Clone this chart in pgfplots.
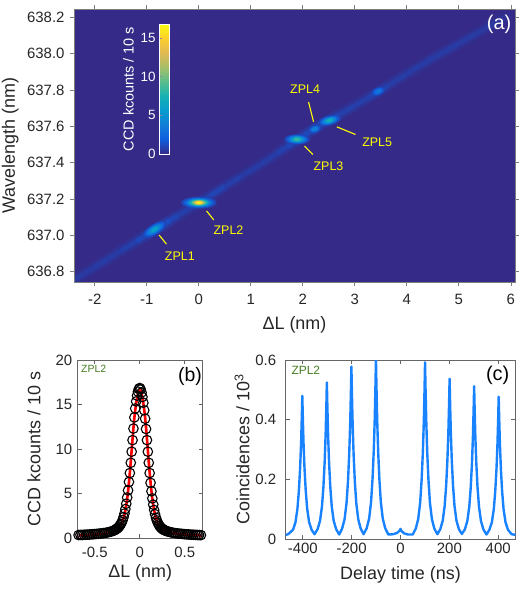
\documentclass[border=0pt]{standalone}
\usepackage{pgfplots}
\pgfplotsset{compat=1.18}
\usepackage{pgfplotstable}
\usepackage{fontspec}
\setmainfont{Liberation Sans}

\definecolor{pbg}{RGB}{53,42,135}
\definecolor{zplyellow}{RGB}{255,255,0}
\definecolor{zplgreen}{RGB}{70,125,35}
\definecolor{gtwoblue}{RGB}{25,130,255}
\definecolor{axgray}{RGB}{125,125,125}
\definecolor{txt}{RGB}{38,38,38}

\newcommand\tickfont{\fontsize{15}{17}\selectfont}
\newcommand\labfont{\fontsize{18}{20}\selectfont}

\pgfplotsset{
  colormap={parula}{
    rgb255=(53,42,135) rgb255=(15,92,221) rgb255=(18,125,216) rgb255=(7,156,207)
    rgb255=(21,177,180) rgb255=(89,189,140) rgb255=(165,190,107) rgb255=(225,185,82)
    rgb255=(252,206,46) rgb255=(249,251,14)},
  /pgf/number format/assume math mode=true,
  every axis/.append style={
    tick label style={font=\tickfont, text=txt},
    label style={font=\labfont, text=txt},
  },
}

% filled ellipse whose radii and orientation come from the table
\pgfdeclareplotmark{blob}{%
  \pgfpathellipse{\pgfpointorigin}%
    {\pgfpointpolar{\blobrot}{\blobrx bp}}%
    {\pgfpointpolar{\blobrotb}{\blobry bp}}%
  \pgfusepathqfill}

% emission line along the tuning streak
\pgfplotstableread{
x y g c
-2.6 636.720 0.22 0.55
-2.0 636.826 0.24 0.6
-1.5 636.915 0.27 0.68
-1.2 636.968 0.33 0.85
-1.0 637.003 0.5 1.3
-0.85 637.030 0.65 1.7
-0.7 637.056 0.6 1.55
-0.55 637.083 0.42 1.1
-0.4 637.109 0.3 0.8
-0.2 637.145 0.27 0.72
0.0 637.180 0.33 0.85
0.2 637.215 0.3 0.8
0.35 637.242 0.4 1.05
0.5 637.269 0.3 0.8
0.8 637.322 0.24 0.62
1.2 637.392 0.24 0.62
1.5 637.450 0.27 0.7
1.7 637.489 0.36 0.95
1.9 637.526 0.48 1.25
2.05 637.555 0.4 1.05
2.2 637.583 0.48 1.25
2.35 637.610 0.4 1.05
2.5 637.633 0.48 1.25
2.7 637.664 0.33 0.85
3.0 637.714 0.27 0.7
3.25 637.755 0.27 0.7
3.45 637.791 0.36 0.95
3.65 637.826 0.27 0.7
4.0 637.888 0.24 0.62
4.5 637.975 0.26 0.66
5.0 638.055 0.24 0.62
5.4 638.120 0.22 0.58
5.7 638.170 0.18 0.48
5.9 638.200 0.1 0.25
6.0 638.215 0.03 0.06
}\streak

% bright zero-phonon lines: layered ellipses, outer to inner
\pgfplotstableread{
x y c rx ry rot rotb
-0.85 637.033 1.0 14 5.4 32 122
-0.85 637.033 2.0 11.5 4.5 32 122
-0.85 637.033 3.3 9 3.6 32 122
-0.85 637.033 4.7 6.5 2.7 32 122
-0.85 637.033 6.0 3.8 1.8 32 122
0 637.18 1.0 18 6.0 0 90
0 637.18 2.3 15 5.0 0 90
0 637.18 4.2 12 4.1 0 90
0 637.18 6.8 9.5 3.3 0 90
0 637.18 9.6 7.2 2.7 0 90
0 637.18 12.5 5.2 2.1 0 90
0 637.18 15.0 3.6 1.6 0 90
0 637.18 16.8 2 1 0 90
1.89 637.528 1.0 13 5.2 0 90
1.89 637.528 2.3 10.5 4.3 0 90
1.89 637.528 4.2 8 3.4 0 90
1.89 637.528 6.3 5.6 2.6 0 90
1.89 637.528 8.2 3.2 1.7 0 90
2.23 637.585 1.0 7 4.4 20 110
2.23 637.585 2.3 5.2 3.2 20 110
2.23 637.585 3.8 3.3 2.0 20 110
2.51 637.632 1.0 12 5.0 15 105
2.51 637.632 2.4 9.5 4.0 15 105
2.51 637.632 4.1 7.2 3.1 15 105
2.51 637.632 5.8 4.8 2.3 15 105
2.51 637.632 7.2 2.8 1.5 15 105
3.45 637.792 0.9 8 4.3 25 115
3.45 637.792 2.0 5.8 3.2 25 115
3.45 637.792 3.2 3.4 2 25 115
}\spots

% ZPL2 spectrum: data (d) and fit (f)
\pgfplotstableread{
x d f
-0.68 0.33 0.28
-0.66 0.35 0.29
-0.64 0.34 0.30
-0.62 0.36 0.31
-0.60 0.37 0.32
-0.58 0.38 0.33
-0.56 0.39 0.34
-0.54 0.41 0.36
-0.52 0.42 0.37
-0.50 0.44 0.39
-0.48 0.46 0.41
-0.46 0.48 0.43
-0.44 0.50 0.45
-0.42 0.52 0.47
-0.40 0.55 0.50
-0.38 0.58 0.53
-0.36 0.62 0.57
-0.34 0.67 0.61
-0.32 0.72 0.66
-0.30 0.79 0.72
-0.29 0.83 0.76
-0.28 0.88 0.80
-0.27 0.94 0.85
-0.26 1.01 0.91
-0.25 1.08 0.98
-0.24 1.17 1.07
-0.23 1.28 1.17
-0.22 1.42 1.30
-0.21 1.58 1.45
-0.20 1.78 1.65
-0.19 2.02 1.90
-0.18 2.35 2.22
-0.17 2.75 2.62
-0.16 3.25 3.10
-0.15 3.85 3.70
-0.14 4.55 4.40
-0.13 5.35 5.25
-0.12 6.30 6.25
-0.11 7.30 7.35
-0.10 8.45 8.55
-0.09 9.70 9.85
-0.08 11.00 11.15
-0.07 12.30 12.40
-0.06 13.55 13.50
-0.05 14.55 14.40
-0.04 15.35 15.15
-0.03 16.00 15.75
-0.02 16.45 16.20
-0.01 16.75 16.50
0.00 16.85 16.60
0.01 16.70 16.50
0.02 16.35 16.20
0.03 15.85 15.75
0.04 15.20 15.15
0.05 14.35 14.40
0.06 13.40 13.50
0.07 12.25 12.40
0.08 11.00 11.15
0.09 9.70 9.85
0.10 8.45 8.55
0.11 7.30 7.35
0.12 6.20 6.25
0.13 5.25 5.25
0.14 4.45 4.40
0.15 3.75 3.70
0.16 3.15 3.10
0.17 2.68 2.62
0.18 2.28 2.22
0.19 1.97 1.90
0.20 1.72 1.65
0.21 1.52 1.45
0.22 1.36 1.30
0.23 1.23 1.17
0.24 1.12 1.07
0.25 1.03 0.98
0.26 0.96 0.91
0.27 0.90 0.85
0.28 0.85 0.80
0.29 0.81 0.76
0.30 0.77 0.72
0.32 0.71 0.66
0.34 0.65 0.61
0.36 0.61 0.57
0.38 0.57 0.53
0.40 0.54 0.50
0.42 0.51 0.47
0.44 0.49 0.45
0.46 0.47 0.43
0.48 0.45 0.41
0.50 0.43 0.39
0.52 0.41 0.37
0.54 0.40 0.36
0.56 0.38 0.34
0.58 0.37 0.33
0.60 0.36 0.32
0.62 0.35 0.31
0.64 0.34 0.30
0.66 0.33 0.29
0.68 0.32 0.28
}\zpltwo

% second-order correlation histogram of ZPL2
\pgfplotstableread{
t g
-470 0.014
-460 0.016
-440 0.031
-430 0.056
-422 0.101
-416 0.162
-411 0.237
-407 0.321
-404 0.410
-402 0.480
-400 0.410
-397 0.321
-393 0.237
-388 0.162
-382 0.101
-374 0.056
-364 0.031
-352 0.016
-339.5 0.033
-329.5 0.061
-321.5 0.109
-315.5 0.176
-310.5 0.258
-306.5 0.351
-303.5 0.448
-301.5 0.525
-299.5 0.448
-296.5 0.351
-292.5 0.258
-287.5 0.176
-281.5 0.109
-273.5 0.061
-263.5 0.033
-251 0.015
-239 0.035
-229 0.066
-221 0.120
-215 0.193
-210 0.284
-206 0.386
-203 0.493
-201 0.578
-199 0.493
-196 0.386
-192 0.284
-187 0.193
-181 0.120
-173 0.066
-163 0.035
-151 0.016
-138.5 0.036
-128.5 0.068
-120.5 0.124
-114.5 0.201
-109.5 0.295
-105.5 0.401
-102.5 0.514
-100.5 0.602
-98.5 0.514
-95.5 0.401
-91.5 0.295
-86.5 0.201
-80.5 0.124
-72.5 0.068
-62.5 0.036
-50 0.015
-30 0.016
-15 0.020
-6 0.026
-2 0.030
0 0.034
2 0.030
6 0.025
15 0.019
30 0.015
50 0.015
62.5 0.035
72.5 0.067
80.5 0.122
86.5 0.198
91.5 0.290
95.5 0.395
98.5 0.505
100.5 0.592
102.5 0.505
105.5 0.395
109.5 0.290
114.5 0.198
120.5 0.122
128.5 0.067
138.5 0.035
151 0.016
163 0.033
173 0.062
181 0.112
187 0.180
192 0.264
196 0.359
199 0.458
201 0.537
203 0.458
206 0.359
210 0.264
215 0.180
221 0.112
229 0.062
239 0.033
251 0.017
263.5 0.032
273.5 0.060
281.5 0.107
287.5 0.172
292.5 0.252
296.5 0.342
299.5 0.437
301.5 0.512
303.5 0.437
306.5 0.342
310.5 0.252
315.5 0.172
321.5 0.107
329.5 0.060
339.5 0.032
352 0.015
364 0.031
374 0.056
382 0.100
388 0.161
393 0.235
397 0.319
400 0.407
402 0.477
404 0.407
407 0.319
411 0.235
416 0.161
422 0.100
430 0.056
440 0.031
455 0.016
470 0.014
}\gtwo

\begin{document}
\begin{tikzpicture}
\useasboundingbox (0,0) rectangle (526bp,590bp);

% ---------------- (a) PLE map ----------------
\begin{axis}[
  at={(74bp,308bp)}, anchor=south west,
  scale only axis, width=441bp, height=273bp,
  xmin=-2.4, xmax=6.08, ymin=636.744, ymax=638.245,
  xtick={-2,-1,0,1,2,3,4,5,6},
  ytick={636.8,637,637.2,637.4,637.6,637.8,638,638.2},
  scaled y ticks=false,
  yticklabel style={/pgf/number format/.cd, fixed, fixed zerofill, precision=1},
  tick align=outside, major tick length=4bp,
  axis line style={axgray, line width=0.7bp},
  tick style={axgray, line width=0.7bp},
  axis background/.style={fill=pbg},
  axis on top,
  colormap name=parula, point meta min=0, point meta max=16.8,
  xlabel={ΔL (nm)}, ylabel={Wavelength (nm)},
  xlabel style={at={(axis description cs:0.5,-0.1575)}, anchor=center},
  ylabel style={at={(axis description cs:-0.1445,0.5)}, anchor=center},
  xticklabel shift=5bp, yticklabel shift=2bp,
  colorbar,
  colorbar style={
    at={(parent axis.north west)}, anchor=north west,
    xshift=76.7bp, yshift=-15bp,
    scale only axis, width=10bp, height=130bp,
    ytick={0,5,10,15},
    ytick pos=left, yticklabel pos=left,
    tick align=inside, major tick length=2.5bp,
    tick style={black!45, line width=0.5bp},
    axis line style={white, line width=0.8bp},
    yticklabel style={font=\fontsize{13.5}{15}\selectfont, text=white},
    ylabel={CCD kcounts / 10 s},
    ylabel style={font=\fontsize{14.5}{16}\selectfont, text=white},
  },
]
\addplot[mesh, point meta=explicit, line width=11bp, forget plot]
  table[x=x, y=y, meta=g] {\streak};
\addplot[mesh, point meta=explicit, line width=5bp, forget plot]
  table[x=x, y=y, meta=c] {\streak};
\addplot[scatter, only marks, mark=blob, point meta=explicit,
  scatter/use mapped color={draw=none, fill=mapped color},
  visualization depends on={\thisrow{rx} \as \blobrx},
  visualization depends on={\thisrow{ry} \as \blobry},
  visualization depends on={\thisrow{rot} \as \blobrot},
  visualization depends on={\thisrow{rotb} \as \blobrotb},
  forget plot]
  table[x=x, y=y, meta=c] {\spots};

% labels of the individual lines
\addplot[zplyellow, line width=1.1bp, forget plot] coordinates {(-0.763,637.002) (-0.621,636.952)};
\addplot[zplyellow, line width=1.1bp, forget plot] coordinates {(0.148,637.135) (0.288,637.085)};
\addplot[zplyellow, line width=1.1bp, forget plot] coordinates {(2.033,637.491) (2.192,637.445)};
\addplot[zplyellow, line width=1.1bp, forget plot] coordinates {(2.110,637.734) (2.206,637.625)};
\addplot[zplyellow, line width=1.1bp, forget plot] coordinates {(2.654,637.597) (3.013,637.555)};
\begin{scope}[every node/.style={text=zplyellow, font=\fontsize{12.5}{14}\selectfont}]
\node at (axis cs:-0.365,636.888) {ZPL1};
\node at (axis cs:0.571,637.031) {ZPL2};
\node at (axis cs:2.494,637.381) {ZPL3};
\node at (axis cs:2.044,637.805) {ZPL4};
\node at (axis cs:3.429,637.513) {ZPL5};
\end{scope}
\node[text=white, font=\fontsize{20}{22}\selectfont] at (rel axis cs:0.964,0.945) {(a)};
\end{axis}

% ---------------- (b) ZPL2 spectrum ----------------
\begin{axis}[
  at={(77.7bp,52bp)}, anchor=south west,
  scale only axis, width=125bp, height=178bp,
  xmin=-0.69, xmax=0.70, ymin=0, ymax=20,
  xtick={-0.5,0,0.5}, ytick={0,5,10,15,20},
  tick align=inside, major tick length=4bp,
  axis line style={black!60, line width=0.7bp},
  tick style={black!60, line width=0.7bp},
  xlabel={ΔL (nm)}, ylabel={CCD kcounts / 10 s},
  xlabel style={at={(axis description cs:0.5,-0.197)}, anchor=center},
  ylabel style={at={(axis description cs:-0.35,0.5)}, anchor=center},
  xticklabel shift=6bp, yticklabel shift=2bp,
]
\addplot[only marks, mark=o, mark size=4.8pt, mark options={line width=1.1bp}, black]
  table[x=x, y=d] {\zpltwo};
\addplot[red, line width=2.6bp] table[x=x, y=f] {\zpltwo};
\node[anchor=west, text=zplgreen, font=\fontsize{10.5}{12}\selectfont] at (rel axis cs:0.0,0.949) {ZPL2};
\node[text=black, font=\fontsize{19.5}{22}\selectfont] at (rel axis cs:0.898,0.906) {(b)};
\end{axis}

% ---------------- (c) correlation ----------------
\begin{axis}[
  at={(285.7bp,51bp)}, anchor=south west,
  scale only axis, width=229.6bp, height=179bp,
  xmin=-470, xmax=470, ymin=0, ymax=0.6,
  xtick={-400,-200,0,200,400}, ytick={0,0.2,0.4,0.6},
  tick align=inside, major tick length=4bp,
  axis line style={black!60, line width=0.7bp},
  tick style={black!60, line width=0.7bp},
  xlabel={Delay time (ns)}, ylabel={Coincidences / 10\textsuperscript{3}},
  xlabel style={at={(axis description cs:0.5,-0.201)}, anchor=center},
  ylabel style={at={(axis description cs:-0.19,0.5)}, anchor=center},
  xticklabel shift=1bp, yticklabel shift=6bp,
]
\addplot[gtwoblue, line width=2.4bp, line join=round] table[x=t, y=g] {\gtwo};
\node[anchor=west, text=zplgreen, font=\fontsize{12}{14}\selectfont] at (rel axis cs:0.01,0.944) {ZPL2};
\node[text=black, font=\fontsize{20}{22}\selectfont] at (rel axis cs:0.923,0.916) {(c)};
\end{axis}
\end{tikzpicture}
\end{document}
